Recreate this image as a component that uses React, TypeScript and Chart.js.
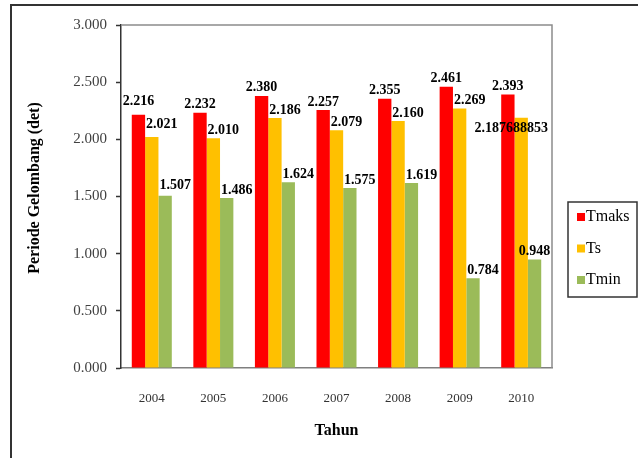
import React, { useEffect, useRef } from "react";
import { Chart, registerables } from "chart.js";

Chart.register(...registerables);

const years = ["2004", "2005", "2006", "2007", "2008", "2009", "2010"];
const tmaks = [2.216, 2.232, 2.38, 2.257, 2.355, 2.461, 2.393];
const ts = [2.021, 2.01, 2.186, 2.079, 2.16, 2.269, 2.187688853];
const tmin = [1.507, 1.486, 1.624, 1.575, 1.619, 0.784, 0.948];
const seriesNames = ["Tmaks", "Ts", "Tmin"];
const seriesColors = ["#FF0000", "#FFC000", "#9BBB59"];

const yMin = 0;
const yMax = 3;
const yStep = 0.5;

const SERIF = "'Liberation Serif', 'Times New Roman', serif";

// label placement nudges (pixels), per series, with a few exceptions
const labelDx = [0, 10, 10];
const labelDy = -8;
const labelExceptions: Record<string, { dx?: number; dy?: number }> = {
  "0-0": { dy: -13 },
  "1-0": { dy: -13 },
  "2-0": { dy: -10 },
  "1-6": { dx: -10, dy: 11 },
  "2-6": { dx: 0 },
};

function fmt(v: number): string {
  const dec = (String(v).split(".")[1] || "").length;
  return v.toFixed(Math.max(3, dec));
}

const decorPlugin = {
  id: "decor",
  beforeDraw(chart: any) {
    const ctx = chart.ctx;
    ctx.save();
    ctx.strokeStyle = "#333333";
    ctx.lineWidth = 2;
    ctx.beginPath();
    ctx.moveTo(11, chart.height);
    ctx.lineTo(11, 5);
    ctx.lineTo(chart.width, 5);
    ctx.stroke();
    ctx.restore();
  },
  afterDraw(chart: any) {
    const ctx = chart.ctx;
    const a = chart.chartArea;
    ctx.save();
    // plot border top/right
    ctx.strokeStyle = "#8c8c8c";
    ctx.lineWidth = 1.5;
    ctx.beginPath();
    ctx.moveTo(a.left, a.top);
    ctx.lineTo(a.right, a.top);
    ctx.lineTo(a.right, a.bottom);
    ctx.stroke();

    // axis titles
    ctx.fillStyle = "#000";
    ctx.font = `bold 16px ${SERIF}`;
    ctx.textAlign = "center";
    ctx.textBaseline = "middle";
    ctx.fillText("Tahun", (a.left + a.right) / 2, 431);
    ctx.save();
    ctx.translate(35, 188);
    ctx.rotate(-Math.PI / 2);
    ctx.fillText("Periode Gelombang (det)", 0, 0);
    ctx.restore();

    // legend
    ctx.strokeStyle = "#333333";
    ctx.lineWidth = 1.5;
    ctx.fillStyle = "#fff";
    ctx.fillRect(568, 202, 69, 95);
    ctx.strokeRect(568, 202, 69, 95);
    ctx.font = `16px ${SERIF}`;
    ctx.textAlign = "left";
    chart.data.datasets.forEach((ds: any, i: number) => {
      const cy = 217 + i * 31.5;
      ctx.fillStyle = ds.backgroundColor;
      ctx.fillRect(577, cy - 4, 8, 8);
      ctx.fillStyle = "#000";
      ctx.fillText(ds.label, 586, cy);
    });
    ctx.restore();
  },
  afterDatasetsDraw(chart: any) {
    const ctx = chart.ctx;
    ctx.save();
    ctx.font = `bold 14px ${SERIF}`;
    ctx.fillStyle = "#000";
    ctx.textAlign = "center";
    ctx.textBaseline = "middle";
    chart.data.datasets.forEach((ds: any, di: number) => {
      const meta = chart.getDatasetMeta(di);
      meta.data.forEach((el: any, i: number) => {
        const ex = labelExceptions[`${di}-${i}`] || {};
        const dx = ex.dx !== undefined ? ex.dx : labelDx[di];
        const dy = ex.dy !== undefined ? ex.dy : labelDy;
        ctx.fillText(fmt(ds.data[i]), el.x + dx, el.y + dy);
      });
    });
    ctx.restore();
  },
};

export default function App() {
  const ref = useRef<HTMLCanvasElement | null>(null);
  useEffect(() => {
    if (!ref.current) return;
    const seriesData = [tmaks, ts, tmin];
    const chart = new Chart(ref.current, {
      type: "bar",
      data: {
        labels: years,
        datasets: seriesData.map((d, i) => ({
          label: seriesNames[i],
          data: d,
          backgroundColor: seriesColors[i],
          borderWidth: 0,
          categoryPercentage: 0.65,
          barPercentage: 1.0,
        })),
      },
      options: {
        responsive: false,
        animation: false,
        layout: { padding: { left: 0, top: 25, right: 86, bottom: 0 } },
        plugins: { legend: { display: false }, tooltip: { enabled: false } },
        scales: {
          x: {
            grid: { display: false, drawTicks: false },
            border: { color: "#7f7f7f", width: 1.5 },
            ticks: { font: { family: SERIF, size: 13 }, color: "#333", padding: 23 },
            afterFit: (s: any) => {
              s.height = 90;
            },
          },
          y: {
            min: yMin,
            max: yMax,
            ticks: {
              stepSize: yStep,
              callback: (v: any) => Number(v).toFixed(3),
              font: { family: SERIF, size: 15 },
              color: "#404040",
              padding: 9,
            },
            grid: { drawOnChartArea: false, tickLength: 5, color: "#333", tickWidth: 1.5 },
            border: { color: "#333", width: 1.5 },
            afterFit: (s: any) => {
              s.width = 121;
            },
          },
        },
      } as any,
      plugins: [decorPlugin],
    });
    return () => chart.destroy();
  }, []);
  return (
    <div style={{ position: "absolute", left: 0, top: 0, width: 638, height: 458, background: "#fff" }}>
      <canvas ref={ref} width={638} height={458} />
    </div>
  );
}
